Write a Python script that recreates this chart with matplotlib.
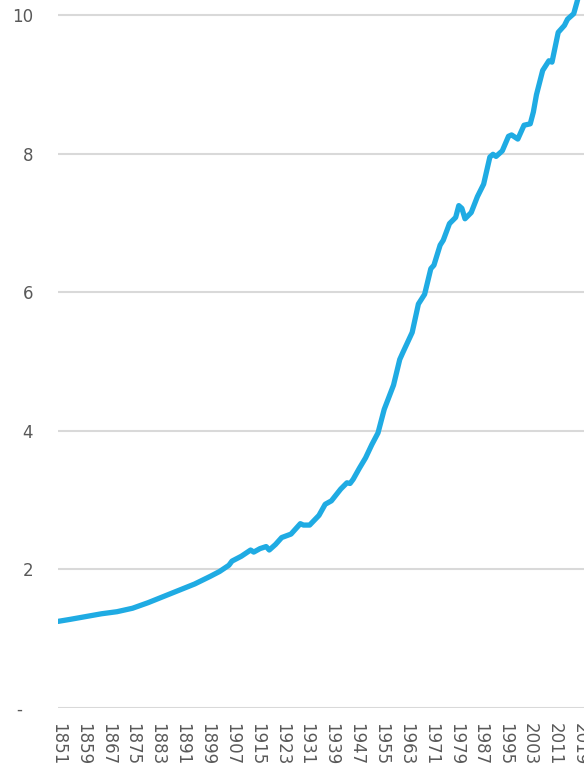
import matplotlib.pyplot as plt

# values
years = [1851, 1855, 1860, 1865, 1870, 1875, 1880, 1885, 1890, 1895,
         1900, 1903, 1906, 1907, 1910, 1913, 1914, 1916, 1918, 1919,
         1920, 1921, 1923, 1926, 1929, 1930, 1932, 1935, 1937, 1939,
         1942, 1944, 1945, 1946, 1948, 1950, 1952, 1954, 1956, 1959,
         1961, 1962, 1965, 1967, 1969, 1971, 1972, 1974, 1975, 1977,
         1979, 1980, 1981, 1982, 1984, 1986, 1988, 1990, 1991, 1992,
         1994, 1996, 1997, 1999, 2001, 2003, 2004, 2005, 2007, 2009,
         2010, 2012, 2014, 2015, 2017, 2018, 2019]
values = [1.25, 1.28, 1.32, 1.36, 1.39, 1.44, 1.52, 1.61, 1.70, 1.79,
          1.90, 1.97, 2.06, 2.12, 2.19, 2.28, 2.25, 2.30, 2.33, 2.28,
          2.32, 2.36, 2.46, 2.51, 2.66, 2.64, 2.64, 2.78, 2.94, 2.99,
          3.16, 3.25, 3.24, 3.30, 3.46, 3.61, 3.80, 3.97, 4.31, 4.66,
          5.03, 5.13, 5.42, 5.83, 5.97, 6.34, 6.39, 6.68, 6.75, 6.99,
          7.08, 7.25, 7.21, 7.06, 7.15, 7.38, 7.56, 7.95, 7.99, 7.96,
          8.04, 8.25, 8.27, 8.21, 8.41, 8.43, 8.60, 8.85, 9.20, 9.34,
          9.32, 9.75, 9.85, 9.94, 10.02, 10.18, 10.35]

tick_years = list(range(1851, 2020, 8))
y_ticks = [0, 2, 4, 6, 8, 10]
y_labels = ['-  ', '2', '4', '6', '8', '10']

text_col = '#595959'
grid_col = '#d9d9d9'
line_col = '#1fabe3'

fig = plt.figure(figsize=(5.84, 7.67), dpi=100)
# plot area runs past the top and right edge of the figure (cropped chart)
ax = fig.add_axes([0.0993, 0.0769, 0.9257, 1.0842])

ax.plot(years, values, color=line_col, lw=3.8, solid_capstyle='round',
        solid_joinstyle='round', zorder=3)

ax.set_xlim(1851, 2025)
ax.set_ylim(0, 12)

ax.set_yticks(y_ticks)
ax.set_yticklabels(y_labels)
ax.set_xticks(tick_years)
ax.set_xticklabels([str(y) for y in tick_years], rotation=-90)

ax.grid(axis='y', color=grid_col, lw=1.5)
ax.set_axisbelow(True)
for s in ax.spines.values():
    s.set_visible(False)

ax.tick_params(axis='both', length=0, labelsize=12, labelcolor=text_col)
ax.tick_params(axis='y', pad=18)
ax.tick_params(axis='x', pad=11)

fig.savefig('out.png', dpi=100)
